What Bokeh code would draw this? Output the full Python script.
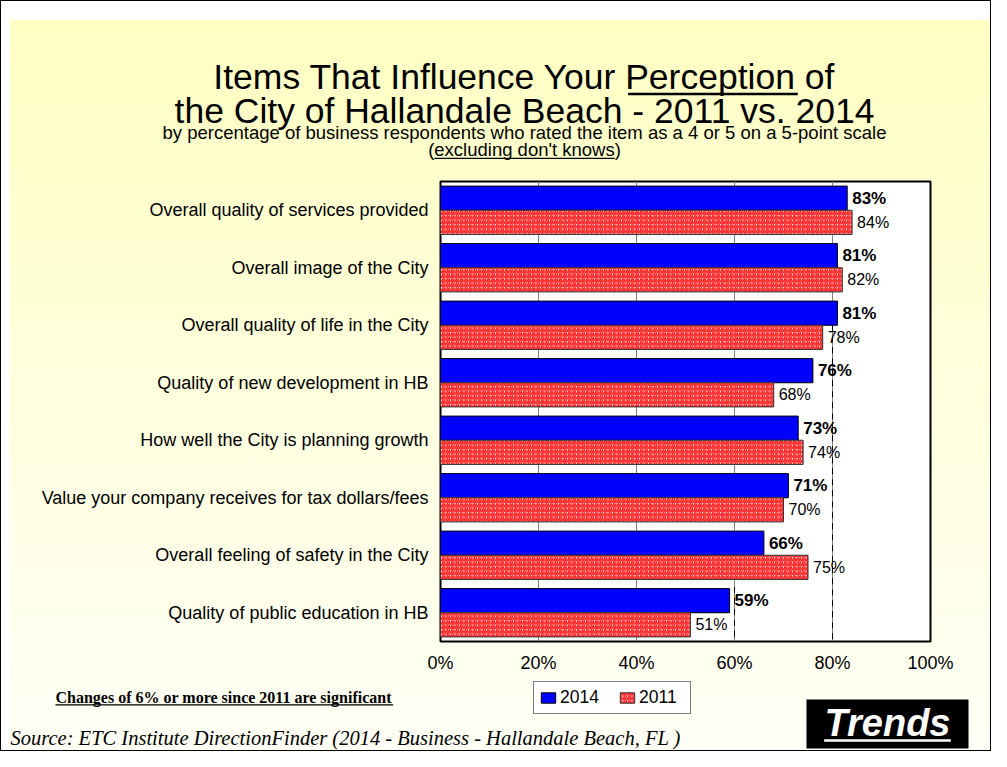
from bokeh.plotting import figure
from bokeh.layouts import column
from bokeh.models import (ColumnDataSource, FactorRange, Range1d, FixedTicker, PrintfTickFormatter,
                          Legend, LegendItem)
from bokeh.transform import dodge
from bokeh.core.properties import value
from bokeh.embed import file_html
from bokeh.resources import INLINE

# ---------------- data ----------------
categories = [
    "Overall quality of services provided",
    "Overall image of the City",
    "Overall quality of life in the City",
    "Quality of new development in HB",
    "How well the City is planning growth",
    "Value your company receives for tax dollars/fees",
    "Overall feeling of safety in the City",
    "Quality of public education in HB",
]
values_2014 = [83, 81, 81, 76, 73, 71, 66, 59]
values_2011 = [84, 82, 78, 68, 74, 70, 75, 51]
x_ticks = [0, 20, 40, 60, 80, 100]
series_names = ["2014", "2011"]

title_line1 = "Items That Influence Your Perception of"
title_line2 = "the City of Hallandale Beach - 2011 vs. 2014"
subtitle = "by percentage of business respondents who rated the item as a 4 or 5 on a 5-point scale"
subtitle2 = "(excluding don't knows)"
note_text = "Changes of 6% or more since 2011 are significant"
source_text = "Source:  ETC Institute DirectionFinder (2014 - Business - Hallandale Beach, FL )"
badge_text = "Trends"

SANS = "Liberation Sans"
SERIF = "Liberation Serif"
W = 991
H_HEAD, H_CHART, H_FOOT = 170, 510, 71

BLUE = "#0000FF"
RED = "#FF2020"
NAN = float("nan")

# Arial / Liberation Sans advance widths (1/1000 em) for underline placement
_AW = {' ': 278, "'": 191, '(': 333, ')': 333, '-': 333, '.': 278, '/': 278, ':': 278, '%': 889}
_AW.update({d: 556 for d in "0123456789"})
_AW.update(dict(zip("ABCDEFGHIJKLMNOPQRSTUVWXYZ",
                    [667, 667, 722, 722, 667, 611, 778, 722, 278, 500, 667, 556, 833, 722, 778, 667,
                     778, 722, 667, 611, 722, 667, 944, 667, 667, 611])))
_AW.update(dict(zip("abcdefghijklmnopqrstuvwxyz",
                    [556, 556, 500, 556, 556, 278, 556, 556, 222, 222, 500, 222, 833, 556, 556, 556,
                     556, 333, 500, 278, 556, 500, 722, 500, 500, 500])))


def tw(s, size):
    return sum(_AW.get(c, 556) for c in s) / 1000.0 * size


def no_align(f):
    try:
        f.frame_align = False
    except Exception:
        pass


def blank_fig(h):
    f = figure(width=W, height=h, x_range=Range1d(0, W), y_range=Range1d(h, 0),
               x_axis_type=None, y_axis_type=None, min_border=0, output_backend="svg",
               toolbar_location=None)
    f.border_fill_color = None
    f.background_fill_color = None
    f.outline_line_color = None
    for g in f.grid:
        g.visible = False
    no_align(f)
    return f


def txt(f, x, y, s, size, font=SANS, style="normal", color="black", align="center"):
    f.text(x=[x], y=[y], text=[s], text_align=align, text_baseline="middle",
           text_font=value(font), text_font_style=style, text_font_size=f"{size}px", text_color=color)


# ---------------- header ----------------
head = blank_fig(H_HEAD)
CX = 524
T_SIZE = 35.5
S_SIZE = 18.5
Y_T1, Y_T2, Y_S1, Y_S2 = 76, 110, 132, 149
txt(head, CX, Y_T1, title_line1, T_SIZE)
txt(head, CX, Y_T2, title_line2, T_SIZE)
txt(head, CX, Y_S1, subtitle, S_SIZE)
txt(head, CX, Y_S2, subtitle2, S_SIZE)
u1_x0 = CX - tw(title_line1, T_SIZE) / 2 + tw("Items That Influence Your ", T_SIZE)
u1_x1 = u1_x0 + tw("Perception", T_SIZE)
u2_x0 = CX - tw(subtitle2, S_SIZE) / 2 + tw("(", S_SIZE)
u2_x1 = u2_x0 + tw("excluding don't knows", S_SIZE)
uy1 = Y_T1 + 0.46 * T_SIZE
uy2 = Y_S2 + 0.44 * S_SIZE
head.quad(left=[u1_x0, u2_x0], right=[u1_x1, u2_x1], top=[uy1, uy2], bottom=[uy1 + 2.5, uy2 + 1.3],
          fill_color="black", line_color=None)

# ---------------- chart ----------------
src = ColumnDataSource(dict(
    cat=categories,
    v14=values_2014,
    v11=values_2011,
    l14=[f"{v}%" for v in values_2014],
    l11=[f"{v}%" for v in values_2011],
))

p = figure(width=W, height=H_CHART, output_backend="svg", toolbar_location=None,
           y_range=FactorRange(factors=categories[::-1]), x_range=Range1d(0, 100),
           min_border_left=440, min_border_right=W - 930, min_border_top=11, min_border_bottom=39)
no_align(p)
p.border_fill_color = None
p.background_fill_color = "white"
p.outline_line_color = "black"
p.outline_line_width = 2

p.ygrid.grid_line_color = None
p.xgrid.ticker = FixedTicker(ticks=[20, 40, 60, 80])
p.xgrid.grid_line_color = "#808080"
p.xgrid.grid_line_width = 1

p.xaxis.ticker = FixedTicker(ticks=x_ticks)
p.xaxis.formatter = PrintfTickFormatter(format="%d%%")
p.xaxis.axis_line_color = None
p.xaxis.major_tick_line_color = None
p.xaxis.minor_tick_line_color = None
p.xaxis.major_label_standoff = 5
p.xaxis.major_label_text_font = SANS
p.xaxis.major_label_text_font_size = "18px"
p.xaxis.major_label_text_color = "black"

p.yaxis.axis_line_color = None
p.yaxis.major_tick_line_color = None
p.yaxis.minor_tick_line_color = None
p.yaxis.major_label_standoff = 6
p.yaxis.major_label_text_font = SANS
p.yaxis.major_label_text_font_size = "18px"
p.yaxis.major_label_text_color = "black"

BAR14 = dict(fill_color=BLUE, line_color="black", line_width=1)
BAR11 = dict(fill_color="white", hatch_pattern="/", hatch_color=RED, hatch_scale=4.5, hatch_weight=1.8,
             line_color="#303030", line_width=1)

p.hbar(y=dodge("cat", 0.21, range=p.y_range), left=0, right="v14", height=0.42, source=src, **BAR14)
p.hbar(y=dodge("cat", -0.21, range=p.y_range), left=0, right="v11", height=0.42, source=src, **BAR11)

p.text(x="v14", y=dodge("cat", 0.21, range=p.y_range), text="l14", source=src, x_offset=5,
       text_baseline="middle", text_align="left", text_font=value(SANS), text_font_style="bold",
       text_font_size="17px", text_color="black")
p.text(x="v11", y=dodge("cat", -0.21, range=p.y_range), text="l11", source=src, x_offset=5,
       text_baseline="middle", text_align="left", text_font=value(SANS),
       text_font_size="16px", text_color="black")

s80 = ColumnDataSource(dict(x=[80], c=[categories[2]], e=[categories[-1]]))
p.segment(x0="x", y0=dodge("c", 0.0, range=p.y_range), x1="x", y1=dodge("e", -0.5, range=p.y_range),
          source=s80, line_color="black", line_width=1, line_dash="6 5")
s60 = ColumnDataSource(dict(x=[60], c=[categories[-1]], e=[categories[-1]]))
p.segment(x0="x", y0=dodge("c", 0.45, range=p.y_range), x1="x", y1=dodge("e", -0.5, range=p.y_range),
          source=s60, line_color="black", line_width=1, line_dash="6 5")

# ---------------- footer ----------------
foot = blank_fig(H_FOOT)
OFF = 680  # footer top in page coordinates
NOTE_SIZE = 16
Y_NOTE = 697 - OFF
txt(foot, 55, Y_NOTE, note_text, NOTE_SIZE, font=SERIF, style="bold", align="left")
foot.quad(left=[55], right=[55 + 21.1 * NOTE_SIZE], top=[Y_NOTE + 0.42 * NOTE_SIZE],
          bottom=[Y_NOTE + 0.42 * NOTE_SIZE + 1.3], fill_color="black", line_color=None)
txt(foot, 10, 737 - OFF, source_text, 20.5, font=SERIF, style="italic", align="left")

# badge
BADGE_SIZE = 38
BX = 887
Y_B = 722 - OFF
foot.quad(left=[806], right=[968], top=[699 - OFF], bottom=[748 - OFF], fill_color="black",
          line_color=None)
txt(foot, BX, Y_B, badge_text, BADGE_SIZE, style="bold italic", color="white")
bw = 3.334 * BADGE_SIZE
foot.quad(left=[BX - bw / 2], right=[BX + bw / 2], top=[Y_B + 0.44 * BADGE_SIZE],
          bottom=[Y_B + 0.44 * BADGE_SIZE + 2.5], fill_color="white", line_color=None)

# legend swatches (proxy glyphs with no drawable position, styled like the chart bars)
lg14 = foot.hbar(y=[NAN], left=[NAN], right=[NAN], height=1, **BAR14)
lg11 = foot.hbar(y=[NAN], left=[NAN], right=[NAN], height=1, **BAR11)
LEG_H = 28
legend = Legend(items=[LegendItem(label=series_names[0], renderers=[lg14]),
                       LegendItem(label=series_names[1], renderers=[lg11])],
                location=(533, H_FOOT - (686 - OFF) - LEG_H), orientation="horizontal",
                label_text_font=SANS, label_text_font_size="17.5px", label_text_color="black",
                glyph_width=18, glyph_height=13, label_standoff=3, spacing=12, padding=5, margin=0,
                label_height=18, label_width=46, border_line_color="black", border_line_width=1,
                background_fill_color="white", background_fill_alpha=1.0)
foot.add_layout(legend, "center")

page = column(head, p, foot, spacing=0)
page.styles = {
    "background": "linear-gradient(180deg, #FFFFC2 0%, #FFFFE0 55%, #FFFFF6 100%) 10px 20px / 981px 731px no-repeat, #FFFFFF",
    "outline": "1px solid #000000",
    "outline-offset": "-1px",
}

open("out.html", "w").write(file_html(page, INLINE))
